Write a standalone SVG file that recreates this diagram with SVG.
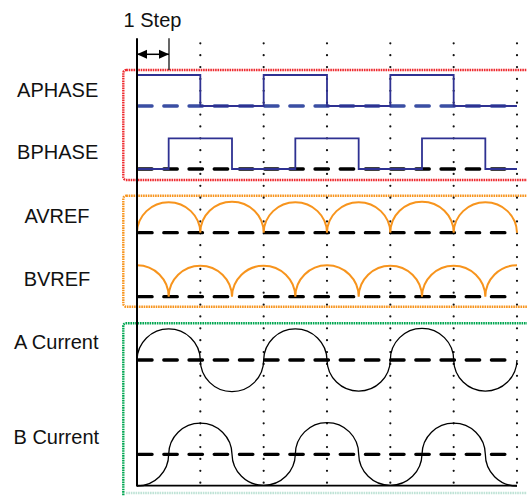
<svg xmlns="http://www.w3.org/2000/svg" width="527" height="496" viewBox="0 0 527 496">
<style>
.lbl{font-family:"Liberation Sans",Arial,sans-serif;font-size:20px;fill:#111;text-anchor:middle}
.box{fill:none;stroke-width:2.4;stroke-dasharray:1.6 0.8}
.grid{stroke:#111;stroke-width:2.2;stroke-linecap:round;stroke-dasharray:0 11.875;fill:none}
.dash{fill:none;stroke-width:3.3;stroke-linecap:round;stroke-dasharray:13.5 11.7}
.blk{stroke:#000}
.blu{stroke:#3a4ea3}
.sq{fill:none;stroke:#2e3192;stroke-width:1.8}
.vref{fill:none;stroke:#f7941d;stroke-width:2}
.cur{fill:none;stroke:#000;stroke-width:1.3}
</style>
<defs>
<marker id="ah" markerUnits="userSpaceOnUse" markerWidth="11" markerHeight="10" refX="10" refY="5" orient="auto-start-reverse" viewBox="0 0 11 10">
<path d="M0,0.5 L10,5 L0,9.5 z" fill="#000"/>
</marker>
</defs>
<rect width="527" height="496" fill="#fff"/>
<!-- frames -->
<rect class="box" x="123.3" y="70" width="460" height="110" rx="3" stroke="#ee2a2f"/>
<rect class="box" x="123.3" y="195.7" width="460" height="111" rx="3" stroke="#f7941d"/>
<path class="box" d="M600,323.3 H126.3 Q123.3,323.3 123.3,326.3 V497" stroke="#00a651"/>
<line class="box" x1="126" y1="493" x2="527" y2="493" stroke="#bfe3d6"/>
<!-- grid -->
<g id="grid">
<line class="grid" x1="200.33" y1="43.3" x2="200.33" y2="484"/>
<line class="grid" x1="263.67" y1="43.3" x2="263.67" y2="484"/>
<line class="grid" x1="327" y1="43.3" x2="327" y2="484"/>
<line class="grid" x1="390.33" y1="43.3" x2="390.33" y2="484"/>
<line class="grid" x1="453.67" y1="43.3" x2="453.67" y2="484"/>
<line class="grid" x1="517" y1="43.3" x2="517" y2="484"/>
</g>
<g id="step">
<text class="lbl" x="152.5" y="27.3">1 Step</text>
<line x1="169" y1="38.3" x2="169" y2="70" stroke="#000" stroke-width="1.2"/>
</g>
<g id="aphase">
<text class="lbl" x="57.7" y="96.7">APHASE</text>
<line class="dash blu" x1="138.6" y1="106" x2="510" y2="106"/>
<path class="sq" d="M137,75 H200.33 V106 H263.67 V75 H327 V106 H390.33 V75 H453.67 V106 H517"/>
</g>
<g id="bphase">
<text class="lbl" x="57.7" y="159.3">BPHASE</text>
<line class="dash blk" x1="138.6" y1="169" x2="510" y2="169"/>
<path class="sq" d="M137,169 H168.67 V138.3 H232 V169 H295.33 V138.3 H358.67 V169 H422 V138.3 H485.33 V169 H517"/>
</g>
<g id="avref">
<text class="lbl" x="57" y="222.7">AVREF</text>
<line class="dash blk" x1="138.6" y1="232.7" x2="510" y2="232.7"/>
<path class="vref" d="M137,232.7 A31.67,31 0 0 1 200.33,232.7 A31.67,31 0 0 1 263.67,232.7 A31.67,31 0 0 1 327,232.7 A31.67,31 0 0 1 390.33,232.7 A31.67,31 0 0 1 453.67,232.7 A31.67,31 0 0 1 517,232.7"/>
</g>
<g id="bvref">
<text class="lbl" x="57" y="286">BVREF</text>
<line class="dash blk" x1="138.6" y1="296.7" x2="510" y2="296.7"/>
<path class="vref" d="M137,265.2 A31.67,31.5 0 0 1 168.67,296.7 A31.67,31.5 0 0 1 232,296.7 A31.67,31.5 0 0 1 295.33,296.7 A31.67,31.5 0 0 1 358.67,296.7 A31.67,31.5 0 0 1 422,296.7 A31.67,31.5 0 0 1 485.33,296.7 A31.67,31.5 0 0 1 517,265.2"/>
</g>
<g id="acurrent">
<text class="lbl" x="56.3" y="349.3">A Current</text>
<line class="dash blk" x1="138.6" y1="360" x2="510" y2="360"/>
<path class="cur" d="M137,360 A31.67,31.67 0 0 1 200.33,360 A31.67,31.67 0 0 0 263.67,360 A31.67,31.67 0 0 1 327,360 A31.67,31.67 0 0 0 390.33,360 A31.67,31.67 0 0 1 453.67,360 A31.67,31.67 0 0 0 517,360"/>
</g>
<g id="bcurrent">
<text class="lbl" x="56.3" y="444">B Current</text>
<line class="dash blk" x1="138.6" y1="454.3" x2="510" y2="454.3"/>
<path class="cur" d="M137,486 A31.67,31.67 0 0 0 168.67,454.3 A31.67,31.67 0 0 1 232,454.3 A31.67,31.67 0 0 0 295.33,454.3 A31.67,31.67 0 0 1 358.67,454.3 A31.67,31.67 0 0 0 422,454.3 A31.67,31.67 0 0 1 485.33,454.3 A31.67,31.67 0 0 0 517,486"/>
</g>
<g id="connectors">
<line x1="137" y1="38.3" x2="137" y2="486.5" stroke="#000" stroke-width="2"/>
<line x1="137" y1="485.7" x2="517" y2="485.7" stroke="#000" stroke-width="1.8"/>
<line x1="137" y1="54.3" x2="169" y2="54.3" stroke="#000" stroke-width="1.5" marker-start="url(#ah)" marker-end="url(#ah)"/>
</g>
</svg>
